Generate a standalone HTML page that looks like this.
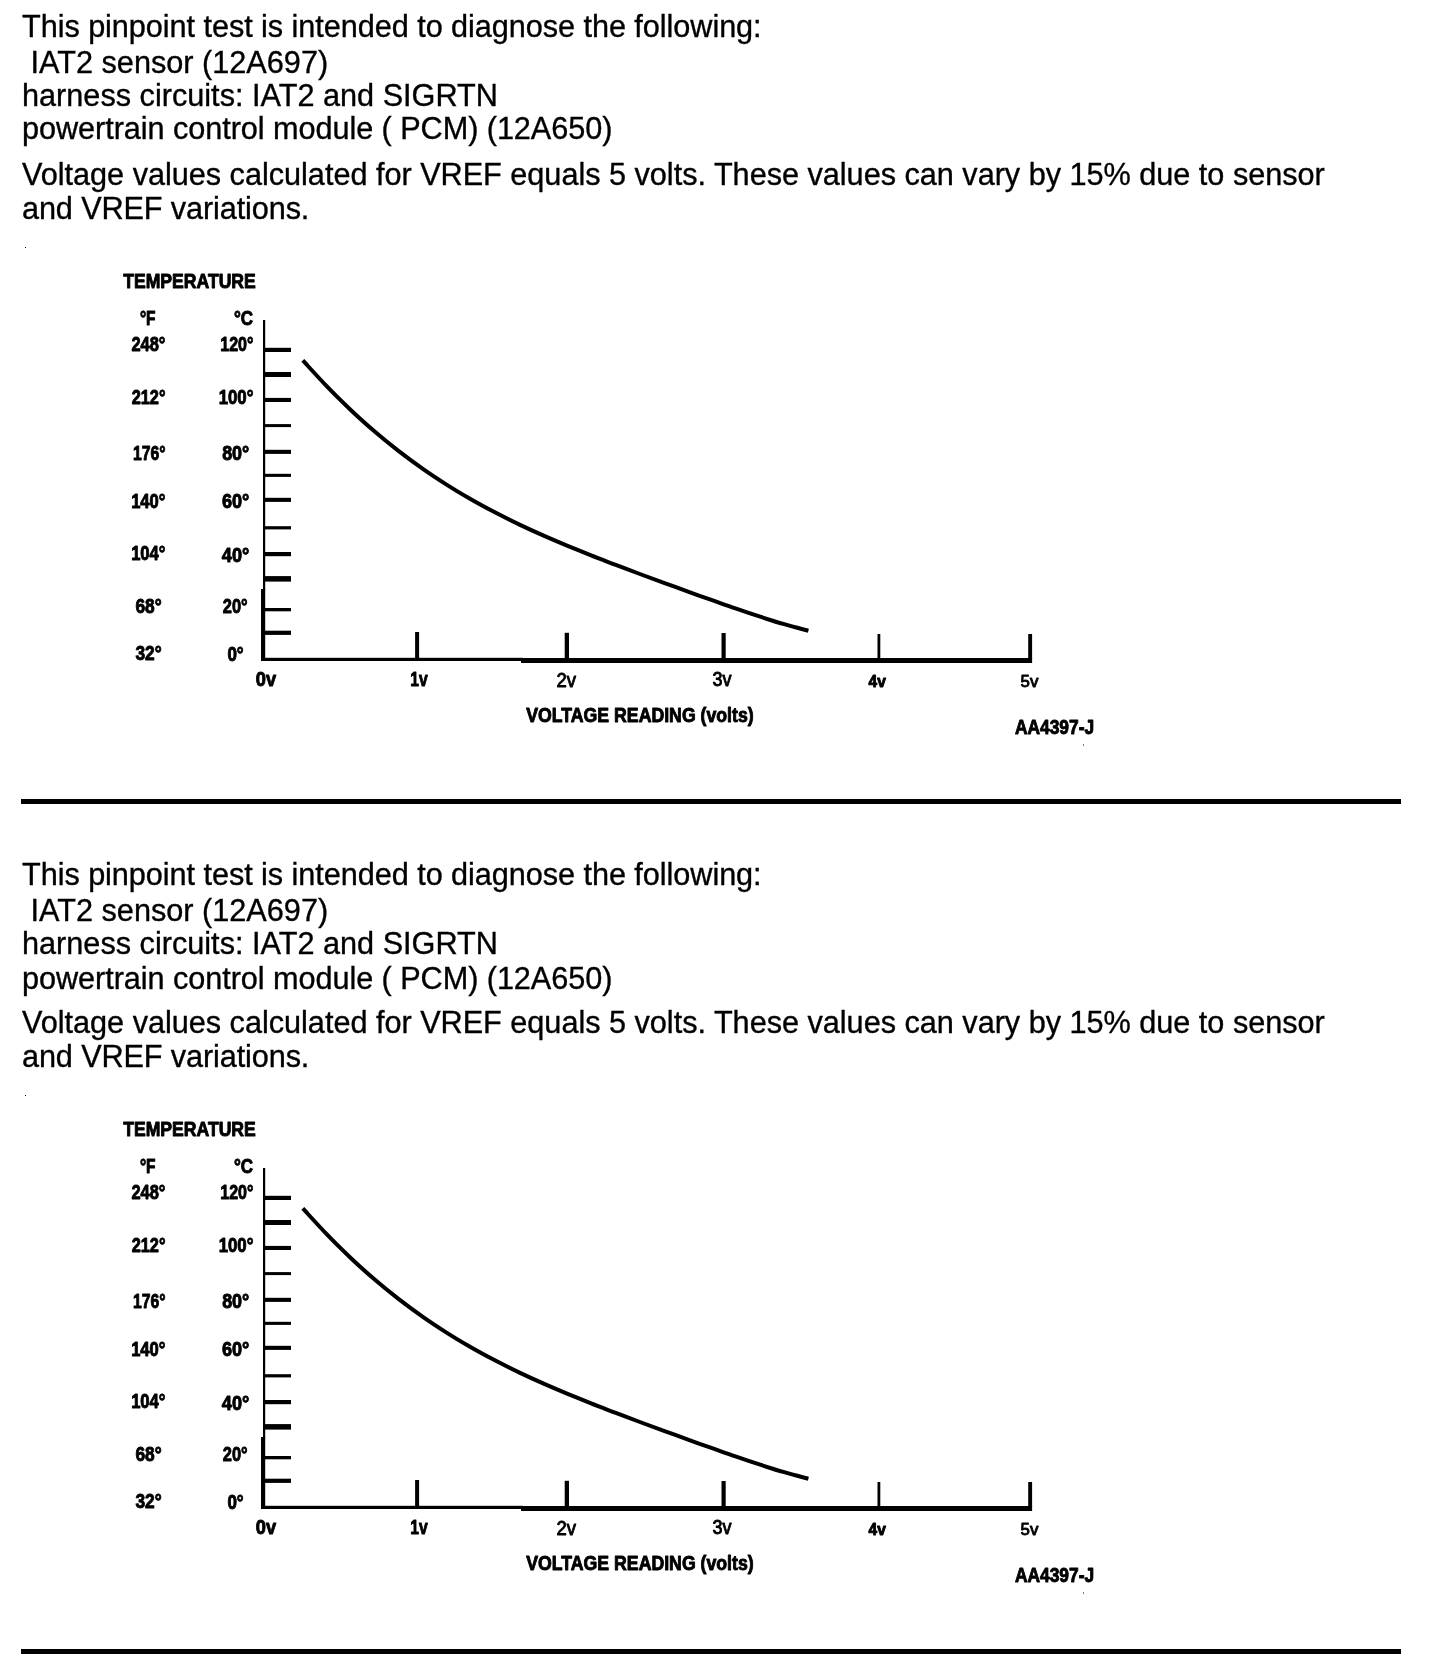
<!DOCTYPE html>
<html><head><meta charset="utf-8"><title>Pinpoint test</title>
<style>
html,body{margin:0;padding:0;background:#fff;}
body{width:1440px;height:1676px;position:relative;overflow:hidden;font-family:"Liberation Sans",sans-serif;color:#000;}
.sec{position:absolute;left:0;width:1440px;height:850px;}
.ln{position:absolute;left:22px;white-space:nowrap;font-size:30.67px;line-height:34px;height:34px;-webkit-text-stroke:0.35px #000;will-change:transform;}
.chart{position:absolute;left:0;top:240px;will-change:transform;}
.rule{position:absolute;left:21px;width:1380px;height:5px;background:#000;}
</style></head><body>
<div class="sec" style="top:0px">
<div class="ln" style="top:9.40px;letter-spacing:-0.061px">This pinpoint test is intended to diagnose the following:</div>
<div class="ln" style="top:44.80px">&nbsp;IAT2 sensor (12A697)</div>
<div class="ln" style="top:78.20px">harness circuits: IAT2 and SIGRTN</div>
<div class="ln" style="top:110.80px;letter-spacing:-0.063px">powertrain control module ( PCM) (12A650)</div>
<div class="ln" style="top:156.90px;letter-spacing:-0.0215px">Voltage values calculated for VREF equals 5 volts. These values can vary by 15% due to sensor</div>
<div class="ln" style="top:190.60px;letter-spacing:-0.12px">and VREF variations.</div>
<svg class="chart" width="1440" height="540" viewBox="0 240 1440 540">
<g fill="#000">
<rect x="263" y="320" width="2.2" height="270"/>
<rect x="261" y="589" width="4.2" height="72"/>
<rect x="261" y="657.8" width="262" height="3.2"/>
<rect x="521" y="658" width="511.1" height="5"/>
<rect x="264" y="347.8" width="27" height="4.2"/>
<rect x="264" y="372.0" width="27" height="5.0"/>
<rect x="264" y="397.9" width="27" height="4.1"/>
<rect x="264" y="424.1" width="27" height="3.0"/>
<rect x="264" y="449.8" width="27" height="4.1"/>
<rect x="264" y="473.8" width="27" height="3.1"/>
<rect x="264" y="497.8" width="27" height="4.1"/>
<rect x="264" y="526.2" width="27" height="3.2"/>
<rect x="264" y="552.0" width="27" height="4.2"/>
<rect x="264" y="576.1" width="27" height="5.5"/>
<rect x="264" y="608.0" width="27" height="3.3"/>
<rect x="264" y="630.7" width="27" height="4.2"/>
<rect x="415.1" y="632.0" width="4.0" height="27.0"/>
<rect x="564.7" y="632.8" width="4.3" height="26.2"/>
<rect x="721.5" y="633.0" width="4.2" height="26.0"/>
<rect x="877.5" y="634.0" width="2.8" height="25.0"/>
<rect x="1028.2" y="634.0" width="3.9" height="25.0"/>
<rect x="25" y="247" width="1" height="1"/>
<rect x="1083" y="744.5" width="1" height="1"/>
</g>
<path d="M302.8,360.4 C306.8,364.7 318.9,378.1 326.9,386.4 C334.9,394.7 343.0,402.6 351.0,410.2 C359.0,417.8 367.0,424.9 375.0,431.8 C383.0,438.7 391.1,445.2 399.1,451.4 C407.1,457.6 415.2,463.5 423.2,469.1 C431.2,474.7 439.3,480.0 447.3,485.1 C455.3,490.2 463.3,494.9 471.3,499.5 C479.3,504.1 487.4,508.4 495.4,512.6 C503.4,516.8 511.5,520.8 519.5,524.6 C527.5,528.4 535.6,532.1 543.6,535.6 C551.6,539.1 559.6,542.5 567.6,545.8 C575.6,549.1 583.7,552.4 591.7,555.6 C599.7,558.8 607.8,561.8 615.8,564.9 C623.8,568.0 631.9,571.0 639.9,574.0 C647.9,577.0 655.9,579.9 663.9,582.8 C671.9,585.7 680.0,588.7 688.0,591.6 C696.0,594.5 704.1,597.4 712.1,600.2 C720.1,603.0 728.2,605.9 736.2,608.6 C744.2,611.4 752.2,614.1 760.2,616.7 C768.2,619.3 776.3,621.9 784.3,624.2 C792.3,626.6 804.4,629.7 808.4,630.8" fill="none" stroke="#000" stroke-width="4" stroke-linejoin="round"/>
<g font-family="Liberation Sans, sans-serif" fill="#000" stroke="#000" stroke-width="0.9" stroke-linejoin="round">
<text x="123.2" y="288.05" font-size="19.43" font-weight="bold" textLength="132.60" lengthAdjust="spacingAndGlyphs">TEMPERATURE</text>
<text x="139.9" y="324.68" font-size="19.6" font-weight="bold" textLength="15.70" lengthAdjust="spacingAndGlyphs">&deg;F</text>
<text x="234.05" y="324.68" font-size="19.6" font-weight="bold" textLength="19.15" lengthAdjust="spacingAndGlyphs">&deg;C</text>
<text x="131.4" y="351.48" font-size="19.6" font-weight="bold" textLength="34.05" lengthAdjust="spacingAndGlyphs">248&deg;</text>
<text x="220.3" y="351.48" font-size="19.6" font-weight="bold" textLength="33.15" lengthAdjust="spacingAndGlyphs">120&deg;</text>
<text x="131.65" y="403.75" font-size="19.6" font-weight="bold" textLength="33.80" lengthAdjust="spacingAndGlyphs">212&deg;</text>
<text x="218.65" y="403.75" font-size="19.6" font-weight="bold" textLength="34.80" lengthAdjust="spacingAndGlyphs">100&deg;</text>
<text x="132.95" y="460.26" font-size="19.6" font-weight="bold" textLength="32.50" lengthAdjust="spacingAndGlyphs">176&deg;</text>
<text x="222.15" y="460.26" font-size="19.6" font-weight="bold" textLength="27.15" lengthAdjust="spacingAndGlyphs">80&deg;</text>
<text x="131.15" y="507.51" font-size="19.6" font-weight="bold" textLength="34.30" lengthAdjust="spacingAndGlyphs">140&deg;</text>
<text x="221.9" y="508.3" font-size="19.6" font-weight="bold" textLength="27.40" lengthAdjust="spacingAndGlyphs">60&deg;</text>
<text x="131.15" y="560.48" font-size="19.6" font-weight="bold" textLength="34.30" lengthAdjust="spacingAndGlyphs">104&deg;</text>
<text x="221.85" y="561.83" font-size="19.6" font-weight="bold" textLength="27.45" lengthAdjust="spacingAndGlyphs">40&deg;</text>
<text x="135.45" y="612.63" font-size="19.6" font-weight="bold" textLength="26.20" lengthAdjust="spacingAndGlyphs">68&deg;</text>
<text x="222.8" y="613.3" font-size="19.6" font-weight="bold" textLength="24.85" lengthAdjust="spacingAndGlyphs">20&deg;</text>
<text x="135.45" y="659.86" font-size="19.6" font-weight="bold" textLength="26.20" lengthAdjust="spacingAndGlyphs">32&deg;</text>
<text x="227.4" y="660.65" font-size="19.6" font-weight="bold" textLength="16.25" lengthAdjust="spacingAndGlyphs">0&deg;</text>
<text x="255.75" y="686.2" font-size="20.16" font-weight="bold" textLength="20.30" lengthAdjust="spacingAndGlyphs">0v</text>
<text x="410.25" y="686.2" font-size="20.16" font-weight="bold" textLength="17.45" lengthAdjust="spacingAndGlyphs">1v</text>
<text x="556.5" y="686.55" font-size="20.11" font-weight="normal" textLength="19.55" lengthAdjust="spacingAndGlyphs">2v</text>
<text x="712.55" y="686.4" font-size="19.66" font-weight="normal" textLength="19.00" lengthAdjust="spacingAndGlyphs">3v</text>
<text x="868.6" y="686.6" font-size="16.09" font-weight="bold" textLength="17.25" lengthAdjust="spacingAndGlyphs">4v</text>
<text x="1020.6" y="686.6" font-size="16.59" font-weight="normal" textLength="17.75" lengthAdjust="spacingAndGlyphs">5v</text>
<text x="526.3" y="722.05" font-size="19.6" font-weight="bold" textLength="227.35" lengthAdjust="spacingAndGlyphs">VOLTAGE READING (volts)</text>
<text x="1015.0" y="734.45" font-size="19.78" font-weight="bold" textLength="79.10" lengthAdjust="spacingAndGlyphs">AA4397-J</text>
</g></svg>
<div class="rule" style="top:799px"></div>
</div>
<div class="sec" style="top:848px">
<div class="ln" style="top:9.40px;letter-spacing:-0.061px">This pinpoint test is intended to diagnose the following:</div>
<div class="ln" style="top:44.80px">&nbsp;IAT2 sensor (12A697)</div>
<div class="ln" style="top:78.20px">harness circuits: IAT2 and SIGRTN</div>
<div class="ln" style="top:112.60px;letter-spacing:-0.063px">powertrain control module ( PCM) (12A650)</div>
<div class="ln" style="top:156.90px;letter-spacing:-0.0215px">Voltage values calculated for VREF equals 5 volts. These values can vary by 15% due to sensor</div>
<div class="ln" style="top:190.60px;letter-spacing:-0.12px">and VREF variations.</div>
<svg class="chart" width="1440" height="540" viewBox="0 240 1440 540">
<g fill="#000">
<rect x="263" y="320" width="2.2" height="270"/>
<rect x="261" y="589" width="4.2" height="72"/>
<rect x="261" y="657.8" width="262" height="3.2"/>
<rect x="521" y="658" width="511.1" height="5"/>
<rect x="264" y="347.8" width="27" height="4.2"/>
<rect x="264" y="372.0" width="27" height="5.0"/>
<rect x="264" y="397.9" width="27" height="4.1"/>
<rect x="264" y="424.1" width="27" height="3.0"/>
<rect x="264" y="449.8" width="27" height="4.1"/>
<rect x="264" y="473.8" width="27" height="3.1"/>
<rect x="264" y="497.8" width="27" height="4.1"/>
<rect x="264" y="526.2" width="27" height="3.2"/>
<rect x="264" y="552.0" width="27" height="4.2"/>
<rect x="264" y="576.1" width="27" height="5.5"/>
<rect x="264" y="608.0" width="27" height="3.3"/>
<rect x="264" y="630.7" width="27" height="4.2"/>
<rect x="415.1" y="632.0" width="4.0" height="27.0"/>
<rect x="564.7" y="632.8" width="4.3" height="26.2"/>
<rect x="721.5" y="633.0" width="4.2" height="26.0"/>
<rect x="877.5" y="634.0" width="2.8" height="25.0"/>
<rect x="1028.2" y="634.0" width="3.9" height="25.0"/>
<rect x="25" y="247" width="1" height="1"/>
<rect x="1083" y="744.5" width="1" height="1"/>
</g>
<path d="M302.8,360.4 C306.8,364.7 318.9,378.1 326.9,386.4 C334.9,394.7 343.0,402.6 351.0,410.2 C359.0,417.8 367.0,424.9 375.0,431.8 C383.0,438.7 391.1,445.2 399.1,451.4 C407.1,457.6 415.2,463.5 423.2,469.1 C431.2,474.7 439.3,480.0 447.3,485.1 C455.3,490.2 463.3,494.9 471.3,499.5 C479.3,504.1 487.4,508.4 495.4,512.6 C503.4,516.8 511.5,520.8 519.5,524.6 C527.5,528.4 535.6,532.1 543.6,535.6 C551.6,539.1 559.6,542.5 567.6,545.8 C575.6,549.1 583.7,552.4 591.7,555.6 C599.7,558.8 607.8,561.8 615.8,564.9 C623.8,568.0 631.9,571.0 639.9,574.0 C647.9,577.0 655.9,579.9 663.9,582.8 C671.9,585.7 680.0,588.7 688.0,591.6 C696.0,594.5 704.1,597.4 712.1,600.2 C720.1,603.0 728.2,605.9 736.2,608.6 C744.2,611.4 752.2,614.1 760.2,616.7 C768.2,619.3 776.3,621.9 784.3,624.2 C792.3,626.6 804.4,629.7 808.4,630.8" fill="none" stroke="#000" stroke-width="4" stroke-linejoin="round"/>
<g font-family="Liberation Sans, sans-serif" fill="#000" stroke="#000" stroke-width="0.9" stroke-linejoin="round">
<text x="123.2" y="288.05" font-size="19.43" font-weight="bold" textLength="132.60" lengthAdjust="spacingAndGlyphs">TEMPERATURE</text>
<text x="139.9" y="324.68" font-size="19.6" font-weight="bold" textLength="15.70" lengthAdjust="spacingAndGlyphs">&deg;F</text>
<text x="234.05" y="324.68" font-size="19.6" font-weight="bold" textLength="19.15" lengthAdjust="spacingAndGlyphs">&deg;C</text>
<text x="131.4" y="351.48" font-size="19.6" font-weight="bold" textLength="34.05" lengthAdjust="spacingAndGlyphs">248&deg;</text>
<text x="220.3" y="351.48" font-size="19.6" font-weight="bold" textLength="33.15" lengthAdjust="spacingAndGlyphs">120&deg;</text>
<text x="131.65" y="403.75" font-size="19.6" font-weight="bold" textLength="33.80" lengthAdjust="spacingAndGlyphs">212&deg;</text>
<text x="218.65" y="403.75" font-size="19.6" font-weight="bold" textLength="34.80" lengthAdjust="spacingAndGlyphs">100&deg;</text>
<text x="132.95" y="460.26" font-size="19.6" font-weight="bold" textLength="32.50" lengthAdjust="spacingAndGlyphs">176&deg;</text>
<text x="222.15" y="460.26" font-size="19.6" font-weight="bold" textLength="27.15" lengthAdjust="spacingAndGlyphs">80&deg;</text>
<text x="131.15" y="507.51" font-size="19.6" font-weight="bold" textLength="34.30" lengthAdjust="spacingAndGlyphs">140&deg;</text>
<text x="221.9" y="508.3" font-size="19.6" font-weight="bold" textLength="27.40" lengthAdjust="spacingAndGlyphs">60&deg;</text>
<text x="131.15" y="560.48" font-size="19.6" font-weight="bold" textLength="34.30" lengthAdjust="spacingAndGlyphs">104&deg;</text>
<text x="221.85" y="561.83" font-size="19.6" font-weight="bold" textLength="27.45" lengthAdjust="spacingAndGlyphs">40&deg;</text>
<text x="135.45" y="612.63" font-size="19.6" font-weight="bold" textLength="26.20" lengthAdjust="spacingAndGlyphs">68&deg;</text>
<text x="222.8" y="613.3" font-size="19.6" font-weight="bold" textLength="24.85" lengthAdjust="spacingAndGlyphs">20&deg;</text>
<text x="135.45" y="659.86" font-size="19.6" font-weight="bold" textLength="26.20" lengthAdjust="spacingAndGlyphs">32&deg;</text>
<text x="227.4" y="660.65" font-size="19.6" font-weight="bold" textLength="16.25" lengthAdjust="spacingAndGlyphs">0&deg;</text>
<text x="255.75" y="686.2" font-size="20.16" font-weight="bold" textLength="20.30" lengthAdjust="spacingAndGlyphs">0v</text>
<text x="410.25" y="686.2" font-size="20.16" font-weight="bold" textLength="17.45" lengthAdjust="spacingAndGlyphs">1v</text>
<text x="556.5" y="686.55" font-size="20.11" font-weight="normal" textLength="19.55" lengthAdjust="spacingAndGlyphs">2v</text>
<text x="712.55" y="686.4" font-size="19.66" font-weight="normal" textLength="19.00" lengthAdjust="spacingAndGlyphs">3v</text>
<text x="868.6" y="686.6" font-size="16.09" font-weight="bold" textLength="17.25" lengthAdjust="spacingAndGlyphs">4v</text>
<text x="1020.6" y="686.6" font-size="16.59" font-weight="normal" textLength="17.75" lengthAdjust="spacingAndGlyphs">5v</text>
<text x="526.3" y="722.05" font-size="19.6" font-weight="bold" textLength="227.35" lengthAdjust="spacingAndGlyphs">VOLTAGE READING (volts)</text>
<text x="1015.0" y="734.45" font-size="19.78" font-weight="bold" textLength="79.10" lengthAdjust="spacingAndGlyphs">AA4397-J</text>
</g></svg>
<div class="rule" style="top:801px"></div>
</div>
</body></html>
